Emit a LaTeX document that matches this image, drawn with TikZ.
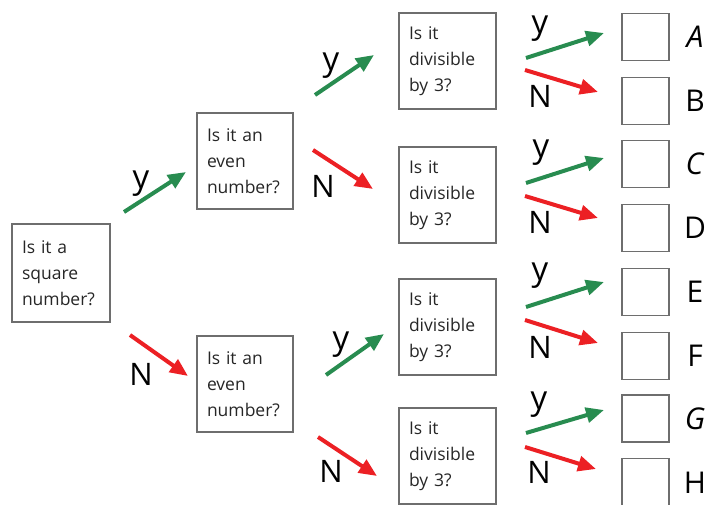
\documentclass[tikz,border=0pt]{standalone}
\usepackage{fontspec}
\setmainfont{Open Sans}
\usetikzlibrary{arrows.meta}
\definecolor{ygreen}{RGB}{40,140,80}
\definecolor{nred}{RGB}{236,32,36}
\definecolor{boxgray}{RGB}{110,110,110}
\tikzset{
  qbox/.style={draw=boxgray,line width=1.4pt,minimum width=97pt,minimum height=96pt,
    inner xsep=10pt,inner ysep=0pt,text width=77pt,align=left,
    font=\fontsize{17.5}{26}\selectfont,text=black!85},
  abox/.style={draw=boxgray,line width=1.4pt,minimum width=47pt,minimum height=47pt,inner sep=0pt},
  lab/.style={font=\fontsize{31}{31}\selectfont,inner sep=0pt},
  ylab/.style={font=\fontsize{33}{33}\selectfont,inner sep=0pt},
  ltr/.style={font=\fontsize{30}{30}\selectfont,inner sep=0pt},
  yarr/.style={draw=ygreen,line width=4pt,-{Triangle[length=18pt,width=15pt]}},
  narr/.style={draw=nred,line width=4pt,-{Triangle[length=18pt,width=15pt]}}
}
\begin{document}
\begin{tikzpicture}[x=1pt,y=-1pt]
\useasboundingbox (0,0) rectangle (710,505);
% question boxes
\node[qbox,minimum width=98pt,minimum height=98pt,text width=78pt] (sq) at (61,273) {Is it a\\square\\number?};
\node[qbox,minimum width=96pt,text width=76pt] (ev1) at (245,161) {Is it an\\even\\number?};
\node[qbox,minimum width=96pt,text width=76pt] (ev2) at (245,384) {Is it an\\even\\number?};
\node[qbox] (d1) at (447.5,61) {Is it\\divisible\\by 3?};
\node[qbox] (d2) at (447.5,195) {Is it\\divisible\\by 3?};
\node[qbox] (d3) at (447.5,327) {Is it\\divisible\\by 3?};
\node[qbox] (d4) at (447.5,456) {Is it\\divisible\\by 3?};
% answer boxes
\node[abox] (bA) at (645.5,37) {};
\node[abox] (bB) at (645.5,101) {};
\node[abox] (bC) at (645.5,164) {};
\node[abox] (bD) at (645.5,228) {};
\node[abox] (bE) at (645.5,292) {};
\node[abox] (bF) at (645.5,356) {};
\node[abox] (bG) at (645.5,418.5) {};
\node[abox] (bH) at (645.5,482) {};
% letters
\node[ltr] (lA) at (695,37) {\textit{A}};
\node[ltr] (lB) at (695,101) {B};
\node[ltr] (lC) at (695,164) {\textit{C}};
\node[ltr] (lD) at (695,228) {D};
\node[ltr] (lE) at (695,292) {E};
\node[ltr] (lF) at (695,356) {F};
\node[ltr] (lG) at (695,419) {\textit{G}};
\node[ltr] (lH) at (695,483) {H};
% arrow end points
\coordinate (s1y) at (124,212); \coordinate (e1y) at (186,172);
\coordinate (s1n) at (130,335); \coordinate (e1n) at (188,376);
\coordinate (s2y) at (315,95);  \coordinate (e2y) at (374,55);
\coordinate (s2n) at (313,150); \coordinate (e2n) at (373,189);
\coordinate (s3y) at (326,375); \coordinate (e3y) at (384,334);
\coordinate (s3n) at (318,437); \coordinate (e3n) at (377,476);
\coordinate (s4y) at (526,58);  \coordinate (e4y) at (604,33);
\coordinate (s4n) at (525,70);  \coordinate (e4n) at (598,92);
\coordinate (s5y) at (526,183); \coordinate (e5y) at (604,158);
\coordinate (s5n) at (525,196); \coordinate (e5n) at (598,218);
\coordinate (s6y) at (526,307); \coordinate (e6y) at (604,282);
\coordinate (s6n) at (525,320); \coordinate (e6n) at (598,343);
\coordinate (s7y) at (526,433); \coordinate (e7y) at (604,410);
\coordinate (s7n) at (525,447); \coordinate (e7n) at (596,469);
% arrows
\draw[yarr] (s1y) -- (e1y);
\draw[narr] (s1n) -- (e1n);
\draw[yarr] (s2y) -- (e2y);
\draw[narr] (s2n) -- (e2n);
\draw[yarr] (s3y) -- (e3y);
\draw[narr] (s3n) -- (e3n);
\draw[yarr] (s4y) -- (e4y);
\draw[narr] (s4n) -- (e4n);
\draw[yarr] (s5y) -- (e5y);
\draw[narr] (s5n) -- (e5n);
\draw[yarr] (s6y) -- (e6y);
\draw[narr] (s6n) -- (e6n);
\draw[yarr] (s7y) -- (e7y);
\draw[narr] (s7n) -- (e7n);
% y / N labels
\node[ylab] (y1) at (141,184) {y};
\node[lab] (n1) at (141,374) {N};
\node[ylab] (y2) at (331,66) {y};
\node[lab] (n2) at (323,186) {N};
\node[ylab] (y3) at (341,345) {y};
\node[lab] (n3) at (331,471) {N};
\node[ylab] (y4) at (540,29) {y};
\node[lab] (n4) at (540,96) {N};
\node[ylab] (y5) at (541,153) {y};
\node[lab] (n5) at (540,222) {N};
\node[ylab] (y6) at (540,276) {y};
\node[lab] (n6) at (540,347) {N};
\node[ylab] (y7) at (539,405) {y};
\node[lab] (n7) at (539,472) {N};
\end{tikzpicture}
\end{document}
